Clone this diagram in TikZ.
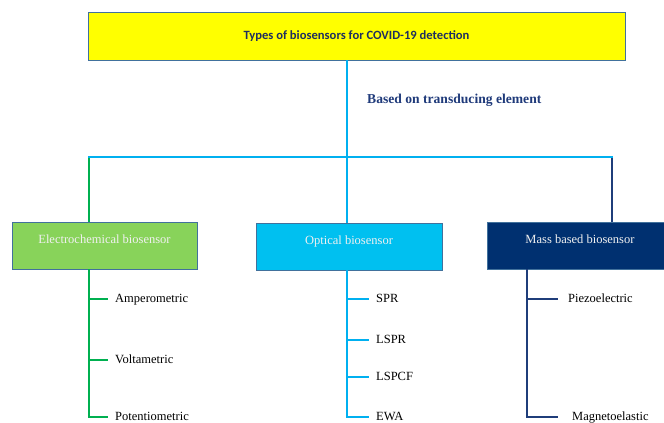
\documentclass[tikz,border=0pt]{standalone}
\usepackage{fontspec}
\setmainfont{Liberation Serif}
\newfontfamily\calfont{Carlito}
\definecolor{ttlyellow}{HTML}{FFFF00}
\definecolor{boxborder}{HTML}{41719C}
\definecolor{ttltext}{HTML}{1F2F5F}
\definecolor{basetext}{HTML}{1F3A7A}
\definecolor{ecfill}{HTML}{88D35A}
\definecolor{opfill}{HTML}{00C0F0}
\definecolor{msfill}{HTML}{003070}
\definecolor{gcol}{HTML}{00B050}
\definecolor{ccol}{HTML}{00B0F0}
\definecolor{ncol}{HTML}{1F3D7A}
\tikzset{
  catbox/.style={draw=boxborder, line width=0.8pt, minimum width=186pt, minimum height=47pt,
    inner sep=0pt, text=white!94!black, font=\fontsize{12.5}{14}\selectfont,
    text height=8pt, text depth=12pt},
  leaf/.style={anchor=west, inner sep=0pt, font=\fontsize{12.5}{14}\selectfont, text=black,
    text height=9pt, text depth=3pt},
  gline/.style={draw=gcol, line width=2.2pt},
  cline/.style={draw=ccol, line width=2.2pt},
  nline/.style={draw=ncol, line width=2.2pt},
}
\begin{document}
\begin{tikzpicture}[x=1pt,y=-1pt]
\useasboundingbox (0,0) rectangle (664,423);
\clip (0,0) rectangle (664,423);
% title
\node[draw=boxborder, line width=0.8pt, fill=ttlyellow, minimum width=537pt, minimum height=48pt, inner sep=0pt,
  font=\calfont\bfseries\fontsize{12.6}{14}\selectfont, text=ttltext] (top) at (356.5,36) {Types of biosensors for COVID-19 detection};
\node[anchor=west, inner sep=0pt, font=\bfseries\fontsize{13.6}{15}\selectfont, text=basetext] (basis) at (367,100) {Based on transducing element};
% category boxes
\node[catbox, fill=ecfill, minimum width=185pt] (ec) at (104.5,245.5) {Electrochemical biosensor};
\node[catbox, fill=opfill] (op) at (349,246.5) {Optical biosensor};
\node[catbox, fill=msfill] (ms) at (580,245.5) {Mass based biosensor};
% x positions of trunks
\coordinate (ecx) at (89,0);
\coordinate (opx) at (347,0);
\coordinate (msx) at (527,0);
\coordinate (rx) at (612,0);
\coordinate (hub) at (347,157);
% leaves
\node[leaf] (amp) at (115,299) {Amperometric};
\node[leaf] (volt) at (115,360) {Voltametric};
\node[leaf] (pot) at (115,417) {Potentiometric};
\node[leaf] (spr) at (376,299) {SPR};
\node[leaf] (lspr) at (376,340) {LSPR};
\node[leaf] (lspcf) at (376,377) {LSPCF};
\node[leaf] (ewa) at (376,417) {EWA};
\node[leaf] (piezo) at (568,299) {Piezoelectric};
\node[leaf] (magn) at (572,417) {Magnetoelastic};
% top tree
\draw[cline] (top.south -| opx) -- (op.north -| opx);
\draw[gline] (ec.north -| ecx) -- (ecx |- hub);
\draw[nline] (ms.north -| rx) -- (rx |- hub);
\draw[cline, line cap=rect] (ecx |- hub) -- (rx |- hub);
% electrochemical
\draw[gline] (ec.south -| ecx) -- (pot.west -| ecx) -- ([xshift=-7pt]pot.west);
\draw[gline] (amp.west -| ecx) -- ([xshift=-7pt]amp.west);
\draw[gline] (volt.west -| ecx) -- ([xshift=-7pt]volt.west);
% optical
\draw[cline] (op.south -| opx) -- (ewa.west -| opx) -- ([xshift=-7pt]ewa.west);
\draw[cline] (spr.west -| opx) -- ([xshift=-7pt]spr.west);
\draw[cline] (lspr.west -| opx) -- ([xshift=-7pt]lspr.west);
\draw[cline] (lspcf.west -| opx) -- ([xshift=-7pt]lspcf.west);
% mass
\draw[nline] (ms.south -| msx) -- (magn.west -| msx) -- ([xshift=-14pt]magn.west);
\draw[nline] (piezo.west -| msx) -- ([xshift=-10pt]piezo.west);
\end{tikzpicture}
\end{document}
